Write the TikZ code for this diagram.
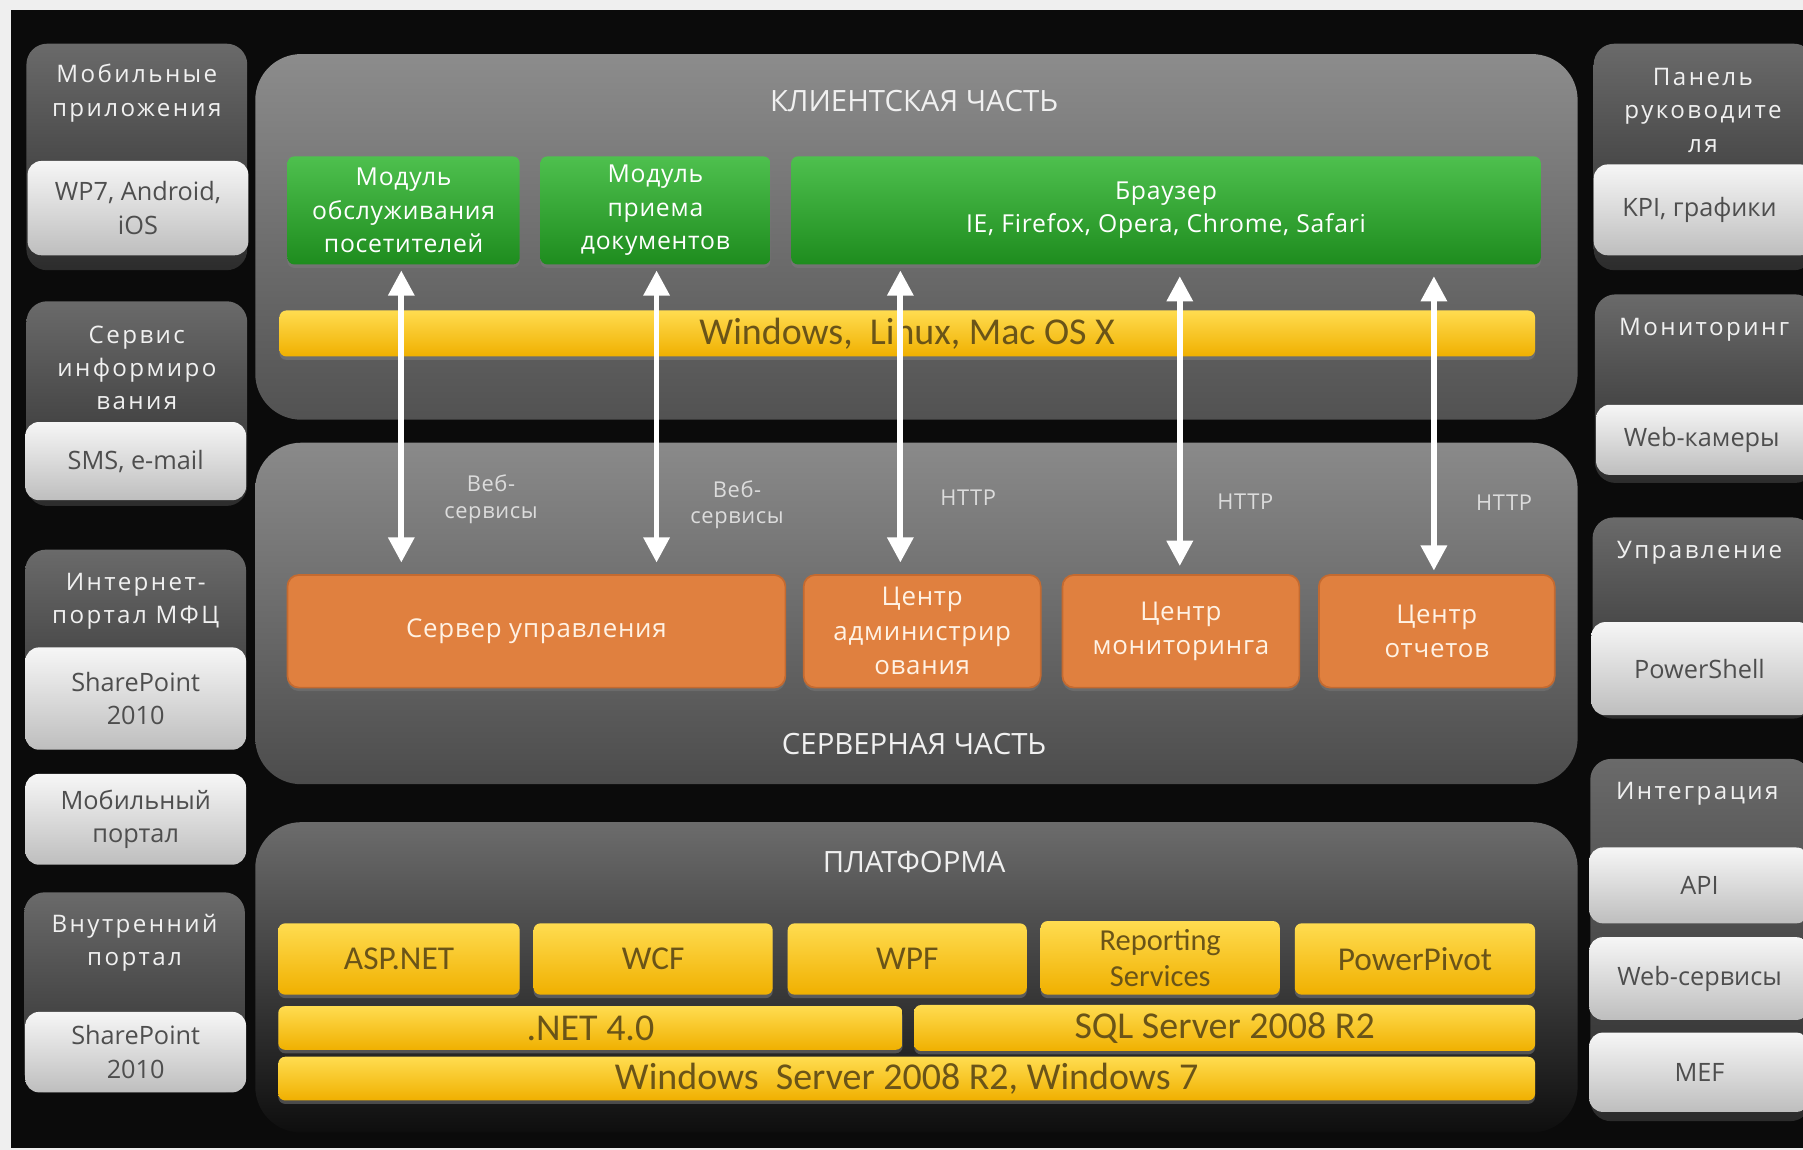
\documentclass[tikz,border=0pt]{standalone}
\usepackage{fontspec}
\setmainfont{Open Sans}
\newfontfamily\calfont{Carlito}
\newfontfamily\sidefont[LetterSpace=10]{Open Sans}
\newfontfamily\midfont[LetterSpace=3]{Open Sans}
\usetikzlibrary{arrows.meta,shadows,calc}
\definecolor{bgk}{HTML}{0B0B0B}
\definecolor{bord}{HTML}{EFEFEF}
\definecolor{dk1}{HTML}{6A6A6A}
\definecolor{dk2}{HTML}{2C2C2C}
\definecolor{lt1}{HTML}{F6F6F6}
\definecolor{lt2}{HTML}{BEBEBE}
\definecolor{ltx}{HTML}{4E4E4E}
\definecolor{gr1}{HTML}{4EC04E}
\definecolor{gr2}{HTML}{1E8C1E}
\definecolor{ye1}{HTML}{FFDC50}
\definecolor{ye2}{HTML}{F0B000}
\definecolor{yex}{HTML}{6A5418}
\definecolor{orf}{HTML}{E0803F}
\definecolor{ord}{HTML}{C46A30}
\definecolor{ortx}{HTML}{FFF2E4}
\definecolor{ttl}{HTML}{F0F0F0}
\definecolor{lbl}{HTML}{DCDCDC}
\definecolor{cl1}{HTML}{8C8C8C}
\definecolor{cl2}{HTML}{525252}
\definecolor{sv1}{HTML}{8A8A8A}
\definecolor{sv2}{HTML}{4C4C4C}
\definecolor{pl1}{HTML}{6C6C6C}
\definecolor{pl2}{HTML}{0E0E0E}
\tikzset{
  base/.style={inner sep=0pt, align=center},
  sidedark/.style={base, rounded corners=18pt, top color=dk1, bottom color=dk2, minimum width=192pt},
  sidelight/.style={base, rounded corners=12pt, top color=lt1, bottom color=lt2, text=ltx,
    font=\fontsize{22}{29}\selectfont, minimum width=192pt},
  sidelbl/.style={base, text=ttl, font=\sidefont\fontsize{21}{29}\selectfont},
  panel/.style={base, rounded corners=40pt, minimum width=1150pt},
  ttlbl/.style={base, text=ttl, font=\fontsize{25.5}{30}\selectfont},
  greenbox/.style={base, rounded corners=6pt, top color=gr1, bottom color=gr2, text=white,
    font=\midfont\fontsize{21.5}{29}\selectfont, minimum height=94pt,
    drop shadow={shadow xshift=0pt, shadow yshift=-3pt, opacity=0.45}},
  yelbox/.style={base, rounded corners=6pt, top color=ye1, bottom color=ye2, text=yex,
    font=\calfont\fontsize{29}{31}\selectfont,
    drop shadow={shadow xshift=0pt, shadow yshift=-3pt, opacity=0.5}},
  barfont/.style={font=\calfont\fontsize{33}{34}\selectfont},
  orbox/.style={base, rounded corners=10pt, fill=orf, draw=ord, line width=1.5pt, text=ortx,
    font=\midfont\fontsize{22.5}{30}\selectfont, minimum height=98pt,
    drop shadow={shadow xshift=0pt, shadow yshift=-3pt, opacity=0.4}},
  protolbl/.style={base, text=lbl, font=\midfont\fontsize{19}{23}\selectfont},
  dbl/.style={draw=white, line width=5pt,
    {Triangle[width=22pt,length=22pt]}-{Triangle[width=22pt,length=22pt]}}
}
\begin{document}
\begin{tikzpicture}[x=1pt,y=-1pt]
\useasboundingbox (0,0) rectangle (1568,1000);
\fill[bord] (0,0) rectangle (1568,1000);
\fill[bgk] (10,9) rectangle (1568,998);

% ---------- left column ----------
\node[sidedark, minimum height=197pt] (L1d) at (119,136.5) {};
\node[sidelbl] (L1t) at (119,81) {Мобильные\\приложения};
\node[sidelight, minimum height=82pt] (L1l) at (120,181) {WP7, Android,\\iOS};

\node[sidedark, minimum height=178pt] (L2d) at (119,351) {};
\node[sidelbl] (L2t) at (119,320) {Сервис\\информиро\\вания};
\node[sidelight, minimum height=68pt] (L2l) at (118,401) {SMS, e-mail};

\node[sidedark, minimum height=174pt] (L3d) at (118,565) {};
\node[sidelbl] (L3t) at (118,523) {Интернет-\\портал МФЦ};
\node[sidelight, minimum height=89pt] (L3l) at (118,607.5) {SharePoint\\2010};

\node[sidelight, minimum height=79pt] (L4l) at (118,712.5) {Мобильный\\портал};

\node[sidedark, minimum height=174pt] (L5d) at (117,863) {};
\node[sidelbl] (L5t) at (117,820) {Внутренний\\портал};
\node[sidelight, minimum height=70pt] (L5l) at (118,915) {SharePoint\\2010};

% ---------- right column ----------
\node[sidedark, minimum height=197pt] (R1d) at (1482,136.5) {};
\node[sidelbl] (R1t) at (1481,96) {Панель\\руководите\\ля};
\node[sidelight, minimum height=79pt] (R1l) at (1482,182.5) {\hspace*{-8pt}KPI, графики};

\node[sidedark, minimum height=164pt] (R2d) at (1483,338) {};
\node[sidelbl] (R2t) at (1482,287) {Мониторинг};
\node[sidelight, minimum height=61pt] (R2l) at (1484,382.5) {\hspace*{-8pt}Web-камеры};

\node[sidedark, minimum height=175pt] (R3d) at (1481,537.5) {};
\node[sidelbl] (R3t) at (1478,481) {Управление};
\node[sidelight, minimum height=81pt] (R3l) at (1480,581.5) {\hspace*{-4pt}PowerShell};

\node[sidedark, minimum height=315pt] (R4d) at (1479,817.5) {};
\node[sidelbl] (R4t) at (1476,690) {Интеграция};
\node[sidelight, minimum height=66pt] (R4a) at (1478,770) {API};
\node[sidelight, minimum height=72pt] (R4b) at (1478,851) {Web-сервисы};
\node[sidelight, minimum height=69pt] (R4c) at (1478,932.5) {MEF};

% ---------- client part ----------
\node[panel, minimum height=318pt, top color=cl1, bottom color=cl2] (client) at (797,206) {};
\node[ttlbl] (clientT) at (795,88) {КЛИЕНТСКАЯ ЧАСТЬ};
\node[greenbox, minimum width=202pt] (g1) at (351,183) {Модуль\\обслуживания\\посетителей};
\node[greenbox, minimum width=200pt] (g2) at (570,183) {Модуль\\приема\\документов};
\node[greenbox, minimum width=652pt] (g3) at (1014,183) {Браузер\\IE, Firefox, Opera, Chrome, Safari};
\node[yelbox, barfont, minimum width=1092pt, minimum height=40pt] (os) at (789,290) {Windows,\ \ Linux, Mac OS X};

% ---------- server part ----------
\node[panel, minimum height=297pt, top color=sv1, bottom color=sv2] (server) at (797,533.5) {};
\node[orbox, minimum width=433pt] (o1) at (466.5,549) {Сервер управления};
\node[orbox, minimum width=206pt] (o2) at (802,549) {Центр\\администрир\\ования};
\node[orbox, minimum width=206pt] (o3) at (1027,549) {Центр\\мониторинга};
\node[orbox, minimum width=205pt] (o4) at (1249.5,549) {Центр\\отчетов};
\node[ttlbl] (serverT) at (795,647) {СЕРВЕРНАЯ ЧАСТЬ};
\node[protolbl] (w1) at (427,434) {Веб-\\сервисы};
\node[protolbl] (w2) at (641,439) {Веб-\\сервисы};
\node[protolbl] (h1) at (842,433) {HTTP};
\node[protolbl] (h2) at (1083,436) {HTTP};
\node[protolbl] (h3) at (1308,437) {HTTP};

% ---------- platform ----------
\node[panel, minimum height=270pt, top color=pl1, bottom color=pl2] (plat) at (797,850) {};
\node[ttlbl] (platT) at (795,750) {ПЛАТФОРМА};
\node[yelbox, minimum width=210pt, minimum height=62pt] (p1) at (347,834) {ASP.NET};
\node[yelbox, minimum width=208pt, minimum height=62pt] (p2) at (568,834) {WCF};
\node[yelbox, minimum width=208pt, minimum height=62pt] (p3) at (789,834) {WPF};
\node[yelbox, minimum width=208pt, minimum height=64pt, font=\calfont\fontsize{26.5}{31}\selectfont] (p4) at (1009,833) {Reporting\\Services};
\node[yelbox, minimum width=209pt, minimum height=62pt] (p5) at (1230.5,834) {PowerPivot};
\node[yelbox, barfont, minimum width=543pt, minimum height=38pt] (net) at (513.5,894) {.NET 4.0};
\node[yelbox, barfont, minimum width=540pt, minimum height=40pt] (sql) at (1065,894) {SQL Server 2008 R2};
\node[yelbox, barfont, minimum width=1093pt, minimum height=38pt] (win) at (788.5,938) {Windows\ \ Server 2008 R2, Windows 7};

% ---------- connectors ----------
\draw[dbl] ($(g1.south)+(-2,5)$) -- ($(g1.south |- o1.north)+(-2,-10)$);
\draw[dbl] ($(g2.south)+(1,5)$) -- ($(g2.south |- o1.north)+(1,-10)$);
\draw[dbl] ($(o2.north |- g3.south)+(-19,5)$) -- ($(o2.north)+(-19,-10)$);
\draw[dbl] ($(o3.north |- g3.south)+(-1,10)$) -- ($(o3.north)+(-1,-7)$);
\draw[dbl] ($(o4.north |- g3.south)+(-2.5,10)$) -- ($(o4.north)+(-2.5,-3)$);
\end{tikzpicture}
\end{document}
